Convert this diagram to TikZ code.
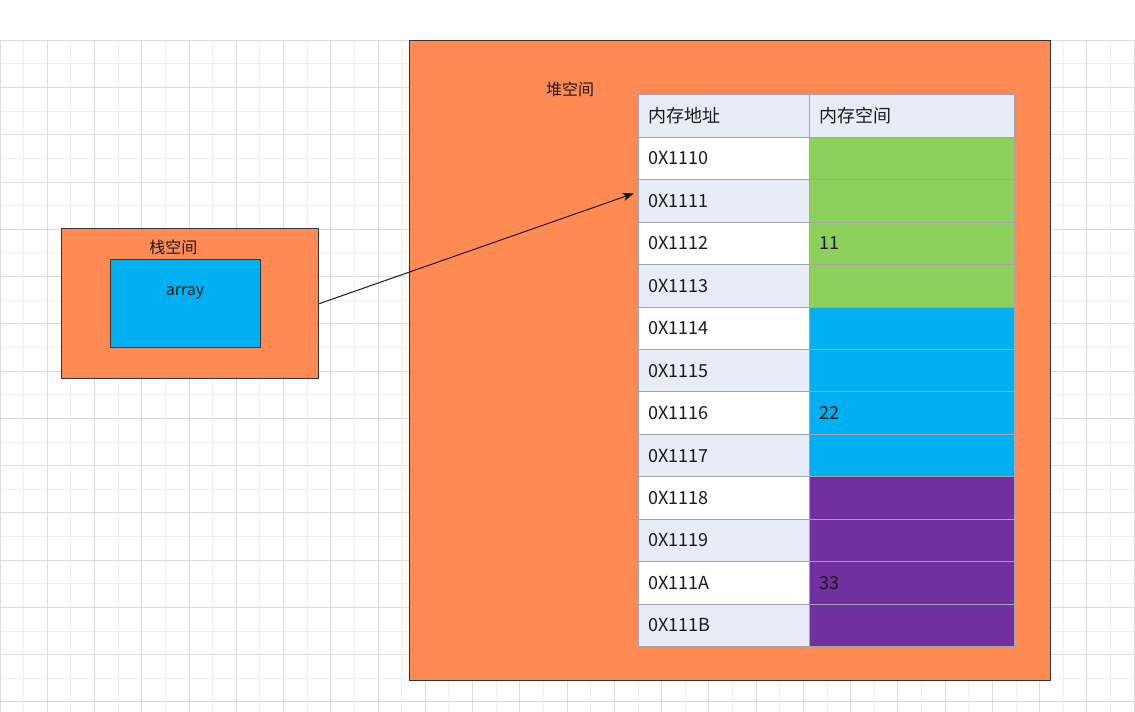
\documentclass[tikz,border=0pt]{standalone}
\usepackage{fontspec}
\setmainfont{Noto Sans CJK SC}
\usetikzlibrary{arrows.meta}
\definecolor{orangebg}{HTML}{FF8A54}
\definecolor{bluebg}{HTML}{00B0F0}
\definecolor{greenbg}{HTML}{8CCF5A}
\definecolor{purplebg}{HTML}{7030A0}
\definecolor{lightbg}{HTML}{E8ECF7}
\definecolor{cellline}{HTML}{A3A3AC}
\definecolor{boxline}{HTML}{333333}
\definecolor{txt}{HTML}{1A1A1A}
\definecolor{gridminor}{HTML}{EFEFEF}
\definecolor{gridmajor}{HTML}{DCDCDC}
\begin{document}
\begin{tikzpicture}[x=1pt,y=-1pt,
  box/.style={draw=boxline, line width=1pt, anchor=north west, inner sep=0pt},
  cell/.style={draw=cellline, line width=1pt, anchor=north west,
    minimum height=42.44pt, inner xsep=9.5pt, inner ysep=0pt,
    align=left, font=\fontsize{18}{21}\selectfont, text=txt},
  lcell/.style={cell, minimum width=171pt, text width=152pt},
  rcell/.style={cell, minimum width=205pt, text width=186pt, inner xsep=9.5pt},
  lbl/.style={font=\fontsize{16}{19}\selectfont, text=txt, inner sep=0pt},
  gmin/.style={draw=gridminor, line width=1pt},
  gmaj/.style={draw=gridmajor, line width=1pt},
  conn/.style={draw=txt, line width=1pt, -{Stealth[length=11pt,width=8pt,inset=2.5pt]}}]
\useasboundingbox[fill=white] (0,0) rectangle (1135,712);
% grid
\foreach \k in {1,3,...,47} \draw[gmin] ({\k*23.63},40.3) -- ({\k*23.63},712);
\foreach \k in {1,3,...,27} \draw[gmin] (0,{40.3+\k*23.63}) -- (1135,{40.3+\k*23.63});
\foreach \k in {0,2,...,48} \draw[gmaj] ({\k*23.63},40.3) -- ({\k*23.63},712);
\foreach \k in {0,2,...,28} \draw[gmaj] (0,{40.3+\k*23.63}) -- (1135,{40.3+\k*23.63});
% stack
\node[box, fill=orangebg, minimum width=257.6pt, minimum height=149.7pt] (stack) at (60.7,228.3) {};
\node[lbl] (stacklbl) at (173.3,247.3) {栈空间};
\node[box, fill=bluebg, minimum width=150pt, minimum height=87.7pt] (arr) at (110.3,259.3) {};
\node[lbl] (arrlbl) at (185,292.5) {array};
% heap
\node[box, fill=orangebg, minimum width=641pt, minimum height=640.4pt] (heap) at (409.3,39.5) {};
\node[lbl] (heaplbl) at (570,89) {堆空间};
% table header
\node[lcell, fill=lightbg] (h1) at (638.3,94.3) {内存地址};
\node[rcell, fill=lightbg] (h2) at (809.3,94.3) {内存空间};
% rows
\foreach \i/\addr/\lf/\rf/\val in {
  1/0X1110/white/greenbg/{},
  2/0X1111/lightbg/greenbg/{},
  3/0X1112/white/greenbg/11,
  4/0X1113/lightbg/greenbg/{},
  5/0X1114/white/bluebg/{},
  6/0X1115/lightbg/bluebg/{},
  7/0X1116/white/bluebg/22,
  8/0X1117/lightbg/bluebg/{},
  9/0X1118/white/purplebg/{},
  10/0X1119/lightbg/purplebg/{},
  11/0X111A/white/purplebg/33,
  12/0X111B/lightbg/purplebg/{}} {
  \node[lcell, fill=\lf] (a\i) at (638.3,{94.3+\i*42.44}) {\addr};
  \node[rcell, fill=\rf] (v\i) at (809.3,{94.3+\i*42.44}) {\val};
}
% connector
\coordinate (tip) at (634,193.3);
\draw[conn] (stack.east) -- (tip);
\end{tikzpicture}
\end{document}
